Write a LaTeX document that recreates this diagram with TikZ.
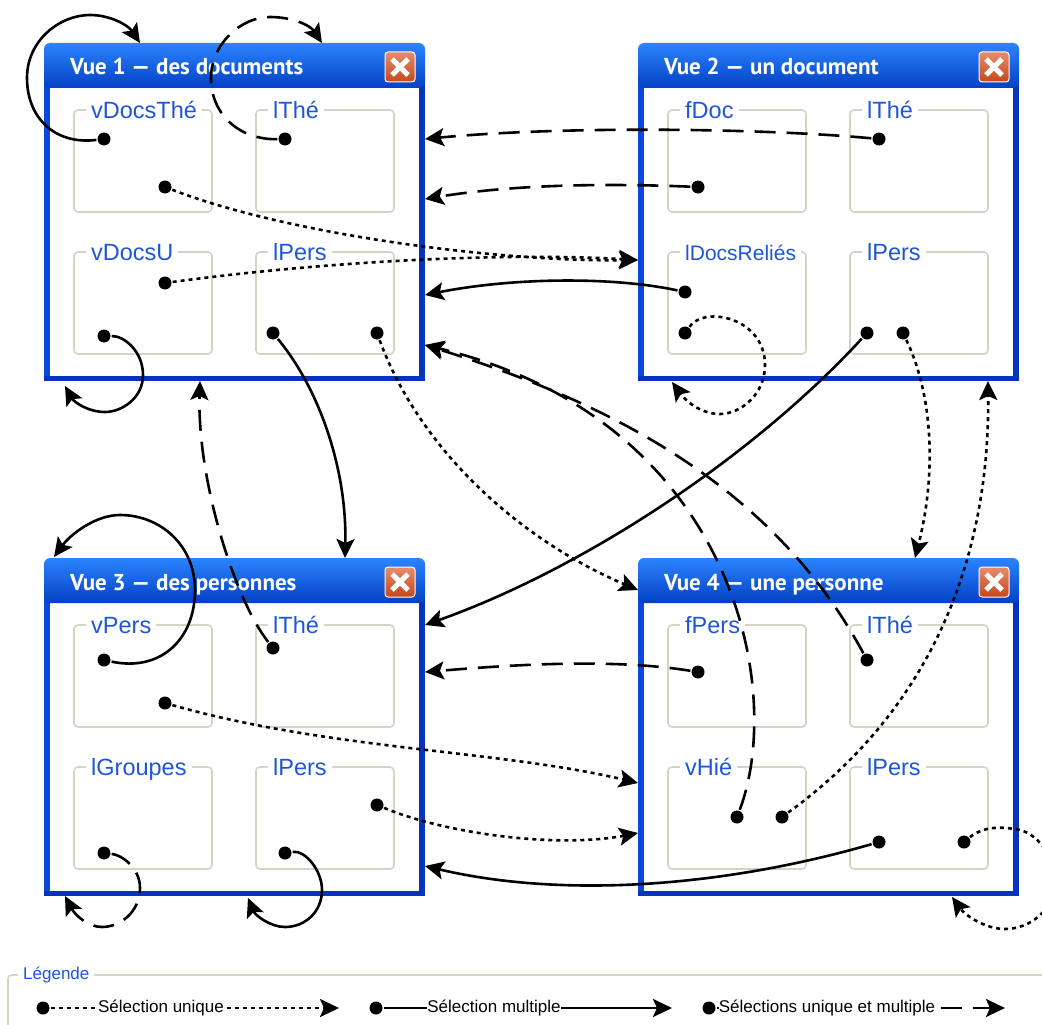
\documentclass[tikz,border=0pt]{standalone}
\usepackage{fontspec}
\setmainfont{Liberation Sans}
\newfontfamily\titrefont{PT Sans}
\usetikzlibrary{arrows.meta}
\definecolor{bleuHaut}{HTML}{2C84FF}
\definecolor{bleuTitre}{HTML}{0060F4}
\definecolor{bleuBas}{HTML}{0340C4}
\definecolor{bleuBord}{HTML}{0A48DE}
\definecolor{bleuFonce}{HTML}{0634C0}
\definecolor{bleuTexte}{HTML}{1F56D8}
\definecolor{gris}{HTML}{D4D4C4}
\definecolor{rougeHaut}{HTML}{E98B6C}
\definecolor{rougeBas}{HTML}{C4481A}
\tikzset{
 pt/.style={circle,fill=black,inner sep=0pt,minimum size=13pt},
 lien/.style={line width=2.6pt,-{Stealth[length=19pt,width=18pt,inset=4pt]},shorten <=1pt},
 unique/.style={lien,dash pattern=on 4pt off 4pt},
 multiple/.style={lien},
 lesdeux/.style={lien,dash pattern=on 21pt off 11pt},
 etiquette/.style={anchor=base west,fill=white,text=bleuTexte,inner xsep=5pt,inner ysep=1pt,font=\fontsize{23.5}{24}\selectfont},
 titre/.style={anchor=base west,text=white,inner sep=0pt,font=\fontsize{23}{24}\titrefont\bfseries},
 legende/.style={fill=white,inner xsep=0pt,inner ysep=1pt,text=black,font=\fontsize{17}{18}\selectfont},
}
% a pane of a window, with its label
\newcommand{\panneau}[4]{
 \draw[gris,line width=1.6pt,rounded corners=4pt](#2,#3) rectangle ++(138,102);
 \node[etiquette] (#1) at (#2+12,#3+8) {#4};
}
% a window: id, x, y, title, four labels
\newcommand{\vue}[8]{
 \begin{scope}[shift={(#2,#3)}]
 \fill[bleuBord](0,10) rectangle (6,338);
 \fill[bleuFonce](375,10) rectangle (381,338);
 \fill[bleuFonce](0,333) rectangle (381,338);
 \shade[top color=bleuHaut,middle color=bleuTitre,bottom color=bleuBas,rounded corners=6pt](0,45)--(0,0)--(381,0)--(381,45)--cycle;
 \node[titre] (#1t) at (26,32) {#4};
 \node[draw=white,line width=1pt,rounded corners=3pt,top color=rougeHaut,bottom color=rougeBas,minimum size=30pt,inner sep=0pt] (#1x) at (356,24) {};
 \draw[white,line width=5pt](348,16)--(364,32);
 \draw[white,line width=5pt](364,16)--(348,32);
 \panneau{#1a}{30}{67}{#5}
 \panneau{#1b}{212}{67}{#6}
 \panneau{#1c}{30}{209}{#7}
 \panneau{#1d}{212}{209}{#8}
 \end{scope}
}
\begin{document}
\begin{tikzpicture}[x=1pt,y=-1pt]
 \clip (0,0) rectangle (1042,1025);
 \vue{vA}{44}{43}{Vue 1 — des documents}{vDocsThé}{lThé}{vDocsU}{lPers}
 \vue{vB}{638}{43}{Vue 2 — un document}{fDoc}{lThé}{\fontsize{21}{22}\selectfont lDocsReliés}{lPers}
 \vue{vC}{44}{558}{Vue 3 — des personnes}{vPers}{lThé}{lGroupes}{lPers}
 \vue{vD}{638}{558}{Vue 4 — une personne}{fPers}{lThé}{vHié}{lPers}
 % points
 \node[pt] (a1) at (104,139) {};
 \node[pt] (a2) at (165,187) {};
 \node[pt] (a3) at (285,139) {};
 \node[pt] (a4) at (165,283) {};
 \node[pt] (a5) at (104,336) {};
 \node[pt] (a6) at (273,333) {};
 \node[pt] (a7) at (377,333) {};
 \node[pt] (b1) at (879,139) {};
 \node[pt] (b2) at (698,187) {};
 \node[pt] (b3) at (685,292) {};
 \node[pt] (b4) at (685,333) {};
 \node[pt] (b5) at (867,333) {};
 \node[pt] (b6) at (903,333) {};
 \node[pt] (c1) at (104,660) {};
 \node[pt] (c2) at (165,703) {};
 \node[pt] (c3) at (273,648) {};
 \node[pt] (c4) at (104,853) {};
 \node[pt] (c5) at (377,805) {};
 \node[pt] (c6) at (285,853) {};
 \node[pt] (d1) at (698,672) {};
 \node[pt] (d2) at (867,660) {};
 \node[pt] (d3) at (737,817) {};
 \node[pt] (d4) at (782,817) {};
 \node[pt] (d5) at (879,842) {};
 \node[pt] (d6) at (964,842) {};
 % ends on the windows
 \coordinate (e1) at (140,43);
 \coordinate (e2) at (322,43);
 \coordinate (e3) at (425,139);
 \coordinate (e4) at (425,199);
 \coordinate (e5) at (638,260);
 \coordinate (e6) at (425,295);
 \coordinate (e7) at (672,382);
 \coordinate (e8) at (65,386);
 \coordinate (e9) at (345,558);
 \coordinate (e10) at (638,590);
 \coordinate (e11) at (425,625);
 \coordinate (e12) at (915,558);
 \coordinate (e13) at (200,381);
 \coordinate (e14) at (54,557);
 \coordinate (e15) at (425,672);
 \coordinate (e16) at (638,783);
 \coordinate (e17) at (638,833);
 \coordinate (e18) at (65,896);
 \coordinate (e19) at (248,898);
 \coordinate (e20) at (425,866);
 \coordinate (e21) at (952,897);
 \coordinate (e22) at (425,345);
 \coordinate (e23) at (988,381);
 % links
 \draw[multiple](a1) .. controls (55,145) and (27,118) .. (27,78) .. controls (27,40) and (60,15) .. (90,15) .. controls (110,15) and (128,25) .. (e1);
 \draw[lesdeux](a3) .. controls (240,140) and (211,115) .. (211,78) .. controls (211,45) and (240,17) .. (270,17) .. controls (292,17) and (310,25) .. (e2);
 \draw[lesdeux](b1) .. controls (760,128) and (560,126) .. (e3);
 \draw[lesdeux](b2) .. controls (600,183) and (510,185) .. (e4);
 \draw[unique](a2) .. controls (290,235) and (500,262) .. (e5);
 \draw[unique](a4) .. controls (320,262) and (500,252) .. (e5);
 \draw[multiple](b3) .. controls (610,276) and (510,278) .. (e6);
 \draw[unique](b4) .. controls (705,305) and (765,318) .. (765,365) .. controls (765,395) and (740,414) .. (720,414) .. controls (700,414) and (685,400) .. (e7);
 \draw[multiple](a5) .. controls (125,336) and (143,352) .. (143,375) .. controls (143,398) and (122,412) .. (105,412) .. controls (88,412) and (74,402) .. (e8);
 \draw[multiple](a6) .. controls (320,390) and (347,470) .. (e9);
 \draw[unique](a7) .. controls (420,450) and (520,540) .. (e10);
 \draw[multiple](b5) .. controls (750,460) and (580,570) .. (e11);
 \draw[unique](b6) .. controls (935,400) and (935,480) .. (e12);
 \draw[lesdeux](c3) .. controls (235,600) and (197,480) .. (e13);
 \draw[multiple](c1) .. controls (160,672) and (195,640) .. (195,590) .. controls (195,545) and (160,515) .. (120,515) .. controls (95,515) and (70,535) .. (e14);
 \draw[lesdeux](d1) .. controls (610,658) and (510,665) .. (e15);
 \draw[unique](c2) .. controls (330,750) and (500,750) .. (e16);
 \draw[unique](c5) .. controls (450,835) and (560,848) .. (e17);
 \draw[lesdeux](c4) .. controls (122,855) and (140,868) .. (140,888) .. controls (140,912) and (120,927) .. (102,927) .. controls (88,927) and (75,915) .. (e18);
 \draw[multiple](c6) .. controls (305,850) and (322,870) .. (322,890) .. controls (322,912) and (305,927) .. (285,927) .. controls (270,927) and (255,915) .. (e19);
 \draw[multiple](d5) .. controls (720,888) and (560,898) .. (e20);
 \draw[unique](d6) .. controls (985,825) and (1005,827) .. (1020,830) .. controls (1040,835) and (1055,860) .. (1055,880) .. controls (1055,910) and (1030,929) .. (1005,929) .. controls (985,929) and (965,915) .. (e21);
 \draw[lesdeux](d3) .. controls (785,690) and (735,420) .. (e22);
 \draw[lesdeux](d2) .. controls (770,480) and (600,400) .. (e22);
 \draw[unique](d4) .. controls (930,710) and (990,560) .. (e23);
 % legend
 \draw[gris,line width=1.6pt,rounded corners=4pt](8,1040)--(8,975)--(1060,975);
 \node[legende,text=bleuTexte,inner xsep=5pt,anchor=west] (titreLegende) at (18,975) {Légende};
 \node[pt] (l1) at (43,1008) {};
 \coordinate (m1) at (339,1008);
 \draw[unique](l1)--(m1);
 \node[legende] (t1) at (161,1008) {Sélection unique};
 \node[pt] (l2) at (376,1008) {};
 \coordinate (m2) at (672,1008);
 \draw[multiple](l2)--(m2);
 \node[legende] (t2) at (494,1008) {Sélection multiple};
 \node[pt] (l3) at (709,1008) {};
 \coordinate (m3) at (1005,1008);
 \draw[lesdeux](l3)--(m3);
 \node[legende] (t3) at (827,1008) {Sélections unique et multiple};
\end{tikzpicture}
\end{document}
